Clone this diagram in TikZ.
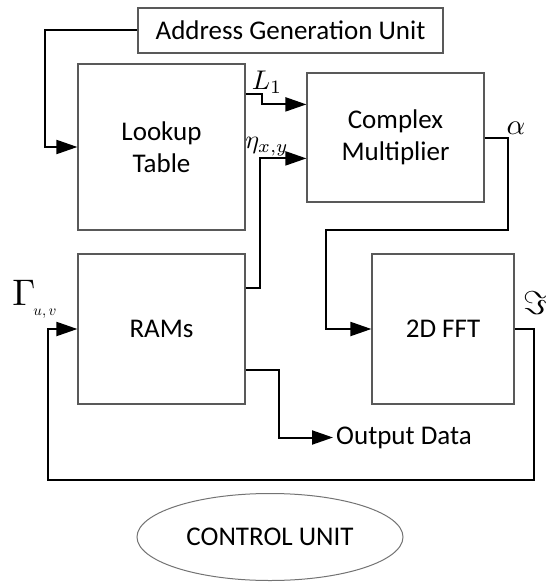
\documentclass[tikz,border=0pt]{standalone}
\usepackage{fontspec}
\setmainfont{Carlito}
\usetikzlibrary{arrows.meta,shapes.geometric,calc}
\begin{document}
\begin{tikzpicture}[x=1pt,y=-1pt,
  blk/.style={draw=black!65,line width=1.2pt,align=center,inner sep=0pt,
    font=\fontsize{27}{32}\selectfont},
  conn/.style={line width=2pt,-{Triangle[length=21pt,width=14pt]}},
  lbl/.style={inner sep=0pt}]
\useasboundingbox (0,0) rectangle (549,583);
\node[blk,minimum width=305pt,minimum height=45pt] (agu) at (290.5,30.5) {Address Generation Unit};
\node[blk,minimum width=167pt,minimum height=166pt] (lut) at (161.5,147) {Lookup\\Table};
\node[blk,minimum width=177pt,minimum height=129pt] (cm) at (395.5,137.5) {Complex\\Multiplier};
\node[blk,minimum width=167pt,minimum height=150pt] (rams) at (161.5,329) {RAMs};
\node[blk,minimum width=142pt,minimum height=150pt] (fft) at (443,329) {2D FFT};
\node[ellipse,draw=black!55,line width=1pt,minimum width=266pt,minimum height=87pt,
  inner sep=0pt,font=\fontsize{27}{32}\selectfont] (cu) at (270,537) {CONTROL UNIT};
\node[anchor=west,inner sep=3pt,font=\fontsize{27}{32}\selectfont] (outd) at (333,437.5) {Output Data};

\coordinate (aturn) at (325.5,230);
\coordinate (loopbl) at (48,479.5);

\draw[conn] (agu.west) -- ++(-92,0) |- (lut.west);
\draw[conn] ($(lut.north east)+(0,31)$) -- ++(16,0) |- ($(cm.north west)+(0,32)$);
\draw[conn] ($(rams.north east)+(0,35)$) -- ++(14,0) |- ($(cm.north west)+(0,86)$);
\draw[conn] (cm.east) -- ++(23,0) |- (aturn) |- (fft.west);
\draw[conn] (fft.east) -- ++(19,0) |- (loopbl) |- (rams.west);
\draw[conn] ($(rams.north east)+(0,117)$) -- ++(33,0) |- (outd.west);

\node[lbl,scale=2.7] (l1) at (267,82) {$L_1$};
\node[lbl,scale=2.6] (eta) at (267,147) {$\eta_{x,y}$};
\node[lbl,scale=2.9] (alpha) at (516,128) {$\alpha$};
\node[lbl,scale=3.7] (gam) at (24,293) {$\Gamma$};
\node[lbl,scale=1.5] (gamsub) at (45,314) {$u,v$};
\node[lbl,scale=3.3] (im) at (535,303) {$\Im$};
\end{tikzpicture}
\end{document}
